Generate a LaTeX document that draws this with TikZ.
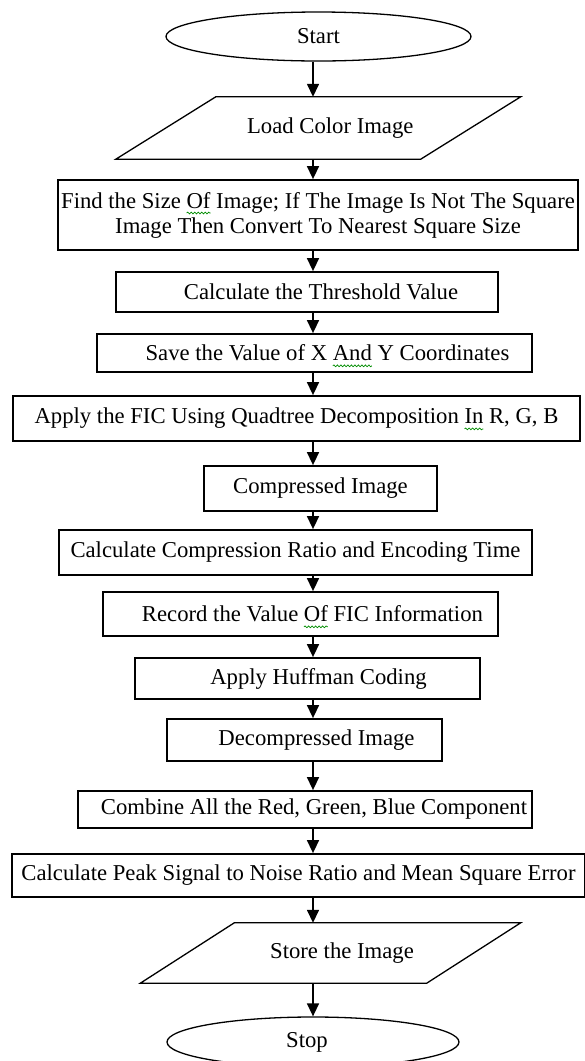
\documentclass[tikz,border=0pt]{standalone}
\usepackage{fontspec}
\setmainfont{Liberation Serif}
\usetikzlibrary{shapes.geometric,arrows.meta,decorations.pathmorphing}

% green spell-check squiggle under a word
\newlength{\spellwd}
\newcommand{\spell}[1]{\settowidth{\spellwd}{#1}\rlap{\tikz[overlay]\draw[green!55!black,line width=0.7pt,decorate,decoration={snake,amplitude=0.9pt,segment length=3.5pt}] (0pt,-5pt) -- (\spellwd,-5pt);}#1}

\begin{document}
\begin{tikzpicture}
[x=1pt,y=-1pt,font=\fontsize{22.7}{25}\selectfont]
\tikzstyle{process}=[draw,rectangle,inner sep=0,line width=1.8pt]
\tikzstyle{terminal}=[draw,ellipse,inner sep=0,line width=1.3pt]
\tikzstyle{io}=[rectangle,inner sep=0]
\tikzstyle{flow}=[-{Triangle[length=13pt,width=12pt]},line width=1.5pt]

\useasboundingbox (0,0) rectangle (585,1061);
\coordinate(spine) at (313,0);

\node(start)[terminal,minimum width=305,minimum height=49] at (318.5,36.5){Start};
\node(load)[io,minimum width=304.5,minimum height=62] at (318.25,128){\hspace*{24pt}Load Color Image};
\draw[line width=1.3pt] ([xshift=50pt]load.north west) -- ([xshift=50pt]load.north east)
   -- ([xshift=-50pt]load.south east) -- ([xshift=-50pt]load.south west) -- cycle;
\node(find)[process,minimum width=520,minimum height=70,align=center] at (318,215)
   {Find the Size \spell{Of} Image; If The Image Is Not The Square\\Image Then Convert To Nearest Square Size};
\node(thresh)[process,minimum width=382,minimum height=40] at (307,292){\hspace*{28pt}Calculate the Threshold Value};
\node(coord)[process,minimum width=435,minimum height=38] at (314.5,353){\hspace*{26pt}Save the Value of X \spell{And} Y Coordinates};
\node(fic)[process,minimum width=567,minimum height=45] at (296.5,418.5){Apply the FIC Using Quadtree Decomposition \spell{In} R, G, B};
\node(comp)[process,minimum width=233,minimum height=45] at (320.5,488.5){Compressed Image};
\node(ratio)[process,minimum width=473,minimum height=45] at (295.5,552.5){Calculate Compression Ratio and Encoding Time};
\node(record)[process,minimum width=395,minimum height=44] at (300.5,614){\hspace*{24pt}Record the Value \spell{Of} FIC Information};
\node(huff)[process,minimum width=345,minimum height=41] at (307.5,678.5){\hspace*{22pt}Apply Huffman Coding};
\node(decomp)[process,minimum width=275,minimum height=42] at (304.5,740){\hspace*{24pt}Decompressed Image};
\node(combine)[process,minimum width=454,minimum height=37] at (305,809.5){\hspace*{18pt}Combine All the Red, Green, Blue Component};
\node(psnr)[process,minimum width=573,minimum height=43] at (298.5,875.5){Calculate Peak Signal to Noise Ratio and Mean Square Error};
\node(store)[io,minimum width=286,minimum height=60] at (330.5,953){\hspace*{23pt}Store the Image};
\draw[line width=1.3pt] ([xshift=47pt]store.north west) -- ([xshift=47pt]store.north east)
   -- ([xshift=-47pt]store.south east) -- ([xshift=-47pt]store.south west) -- cycle;
\node(stop)[terminal,minimum width=292,minimum height=50] at (313,1042){\hspace*{-12pt}Stop};

% arrows down the middle
\foreach \a/\b in {start/load,load/find,find/thresh,thresh/coord,coord/fic,fic/comp,comp/ratio,
   ratio/record,record/huff,huff/decomp,decomp/combine,combine/psnr,psnr/store,store/stop}
   \draw[flow] (\a.south -| spine) -- (\b.north -| spine);
\end{tikzpicture}
\end{document}
